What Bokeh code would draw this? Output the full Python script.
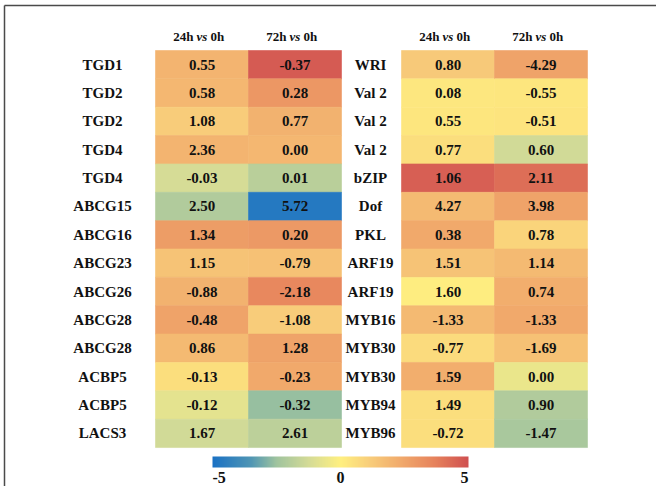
import numpy as np
from bokeh.plotting import figure
from bokeh.models import Range1d, ColumnDataSource, LinearColorMapper, ColorBar, FixedTicker
from bokeh.core.properties import value
from bokeh.embed import file_html
from bokeh.resources import INLINE

# ---- data -------------------------------------------------------------
genes_left = ["TGD1", "TGD2", "TGD2", "TGD4", "TGD4", "ABCG15", "ABCG16",
              "ABCG23", "ABCG26", "ABCG28", "ABCG28", "ACBP5", "ACBP5", "LACS3"]
fc_left_24h = [0.55, 0.58, 1.08, 2.36, -0.03, 2.50, 1.34, 1.15, -0.88, -0.48, 0.86, -0.13, -0.12, 1.67]
fc_left_72h = [-0.37, 0.28, 0.77, 0.00, 0.01, 5.72, 0.20, -0.79, -2.18, -1.08, 1.28, -0.23, -0.32, 2.61]

genes_right = ["WRI", "Val 2", "Val 2", "Val 2", "bZIP", "Dof", "PKL",
               "ARF19", "ARF19", "MYB16", "MYB30", "MYB30", "MYB94", "MYB96"]
fc_right_24h = [0.80, 0.08, 0.55, 0.77, 1.06, 4.27, 0.38, 1.51, 1.60, -1.33, -0.77, 1.59, 1.49, -0.72]
fc_right_72h = [-4.29, -0.55, -0.51, 0.60, 2.11, 3.98, 0.78, 1.14, 0.74, -1.33, -1.69, 0.00, 0.90, -1.47]

# colour score of each cell on the -5..5 scale
score_left_24h = [2.0, 1.9, 1.2, 2.0, -1.2, -2.1, 2.8, 1.5, 2.1, 2.6, 1.8, 0.6, -0.8, -1.3]
score_left_72h = [4.7, 3.0, 2.1, 1.9, -1.9, -4.7, 2.9, 1.6, 3.5, 1.2, 2.6, 2.4, -2.6, -1.8]
score_right_24h = [1.3, 0.3, 0.35, 0.6, 4.6, 1.8, 2.4, 1.5, 0.1, 1.8, 0.7, 2.2, 0.6, 0.6]
score_right_72h = [2.6, 0.35, 0.4, -1.3, 4.2, 2.6, 0.9, 1.8, 2.2, 2.4, 1.6, -0.6, -2.1, -2.3]

comparisons = [("24h", "0h"), ("72h", "0h")]
scale_ticks = [-5, 0, 5]

# ---- palette: blue -> green -> yellow -> orange -> red -------------------
anchors = [(-5.0, (27, 114, 196)), (-3.5, (80, 150, 180)), (-2.5, (160, 196, 158)),
           (-1.2, (214, 220, 150)), (0.0, (255, 240, 128)), (1.2, (248, 204, 122)),
           (2.5, (240, 166, 106)), (3.7, (230, 130, 92)), (5.0, (208, 80, 80))]
pos = np.array([a[0] for a in anchors])
rgb = np.array([a[1] for a in anchors], dtype=float)
steps = np.linspace(-5, 5, 256)
palette = ["#%02x%02x%02x" % tuple(int(round(np.interp(s, pos, rgb[:, k]))) for k in range(3))
           for s in steps]
mapper = LinearColorMapper(palette=palette, low=-5, high=5)

# ---- layout constants (screen pixels) -------------------------------------
W, H = 656, 486
TOP = 50.0
ROW_H = 28.36
COL_W = 93.0
panels = [
    dict(label_x=102, col0=155.0, genes=genes_left,
         fc=[fc_left_24h, fc_left_72h], score=[score_left_24h, score_left_72h]),
    dict(label_x=370, col0=401.0, genes=genes_right,
         fc=[fc_right_24h, fc_right_72h], score=[score_right_24h, score_right_72h]),
]

p = figure(width=W, height=H, x_range=Range1d(0, W), y_range=Range1d(H, 0),
           x_axis_type=None, y_axis_type=None, toolbar_location=None,
           output_backend="svg", min_border=0, outline_line_color=None,
           background_fill_color="white", border_fill_color="white")
p.grid.visible = False

FONT = value("Liberation Serif")

for pan in panels:
    n = len(pan["genes"])
    rows = np.arange(n)
    yc = TOP + (rows + 0.5) * ROW_H
    for j, (fcs, sc) in enumerate(zip(pan["fc"], pan["score"])):
        xc = pan["col0"] + (j + 0.5) * COL_W
        src = ColumnDataSource(dict(x=[xc] * n, y=list(yc), score=sc,
                                    lab=[f"{v:.2f}" for v in fcs]))
        fill = {"field": "score", "transform": mapper}
        p.rect(x="x", y="y", width=COL_W, height=ROW_H, source=src,
               fill_color=fill, line_color=fill, line_width=0.6)
        p.text(x="x", y="y", text="lab", source=src, text_font=FONT,
               text_font_style="bold", text_font_size="15px",
               text_align="center", text_baseline="middle", text_color="#111111")
        # column header: "24h vs 0h" with italic "vs"
        a, b = comparisons[j]
        hy = 36
        p.text(x=[xc - 8.5], y=[hy], text=[a], text_font=FONT, text_font_style="bold",
               text_font_size="13px", text_align="right", text_baseline="middle",
               text_color="#111111")
        p.text(x=[xc], y=[hy], text=["vs"], text_font=FONT, text_font_style="bold italic",
               text_font_size="13px", text_align="center", text_baseline="middle",
               text_color="#111111")
        p.text(x=[xc + 8.5], y=[hy], text=[b], text_font=FONT, text_font_style="bold",
               text_font_size="13px", text_align="left", text_baseline="middle",
               text_color="#111111")
    p.text(x=[pan["label_x"]] * n, y=list(yc), text=pan["genes"], text_font=FONT,
           text_font_style="bold", text_font_size="15px", text_align="center",
           text_baseline="middle", text_color="#111111")

# ---- colour scale bar ------------------------------------------------------
BAR_X, BAR_Y, BAR_W, BAR_H = 212, 456, 256, 11
cb = ColorBar(color_mapper=mapper, orientation="horizontal", width=BAR_W, height=BAR_H,
              location=(BAR_X, H - BAR_Y - BAR_H), padding=0, margin=0,
              ticker=FixedTicker(ticks=[]), bar_line_color=None,
              major_tick_line_color=None, minor_tick_line_color=None,
              border_line_color=None, background_fill_alpha=0)
p.add_layout(cb, "center")
aligns = ["left", "center", "right"]
for t, al in zip(scale_ticks, aligns):
    tx = BAR_X + (t - mapper.low) / (mapper.high - mapper.low) * BAR_W
    p.text(x=[tx], y=[477], text=[str(t)], text_font=FONT, text_font_style="bold",
           text_font_size="16px", text_align=al, text_baseline="middle",
           text_color="#111111")

# ---- frame lines (top and left) -------------------------------------------
p.segment(x0=[4, 4], y0=[5, 5], x1=[W, 4], y1=[5, H], line_color="#4a4a4a", line_width=1.5)

open("out.html", "w").write(file_html(p, INLINE))
